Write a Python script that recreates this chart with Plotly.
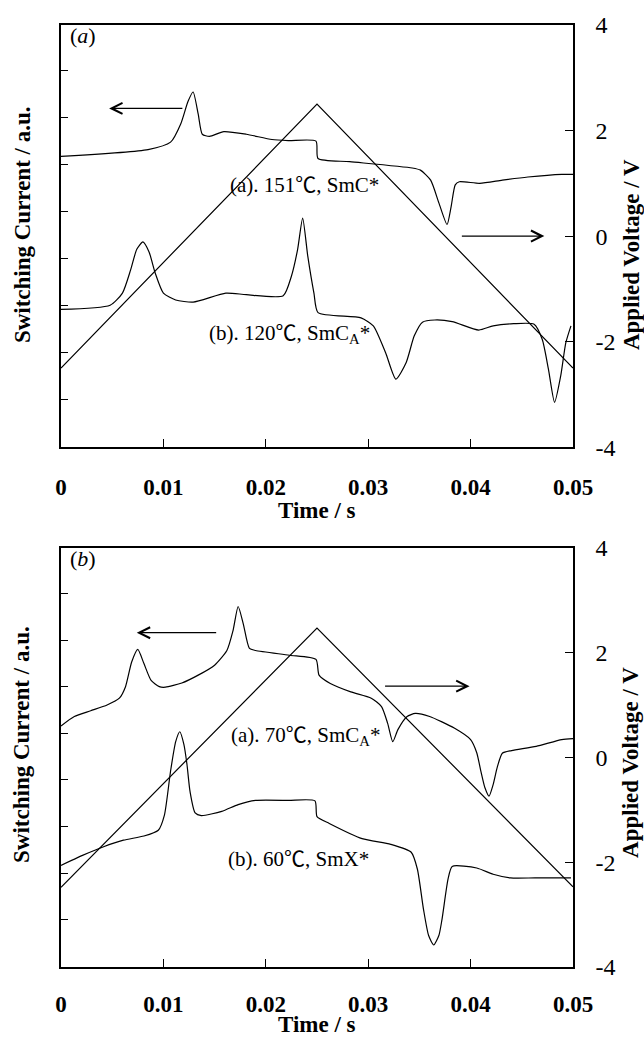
import plotly.graph_objects as go

# ---------------- data ----------------
time_ticks = [0, 0.01, 0.02, 0.03, 0.04, 0.05]
time_tick_labels = ["0", "0.01", "0.02", "0.03", "0.04", "0.05"]
volt_ticks = [-4, -2, 0, 2, 4]
volt_tick_labels = ["-4", "-2", "0", "2", "4"]
current_tick_positions = [-3.1, -2.21, -1.32, -0.43, 0.46, 1.35, 2.24, 3.13]

# applied triangular voltage (both panels)
volt_t = [0, 0.025, 0.05]
top_volt_v = [-2.5, 2.5, -2.5]
bot_volt_v = [-2.48, 2.47, -2.47]

# panel (a): 151 C SmC*
top_a_t = [0, 0.0085, 0.0107, 0.0117, 0.0124, 0.0129, 0.0134, 0.0138, 0.0145, 0.0159, 0.0181,
           0.0206, 0.0222, 0.0249, 0.0251, 0.0282, 0.0343, 0.0351, 0.0361, 0.0369, 0.0377, 0.0381,
           0.0385, 0.0389, 0.0409, 0.0431, 0.0456, 0.0489, 0.05]
top_a_i = [1.51, 1.64, 1.78, 2.13, 2.55, 2.73, 2.31, 1.93, 1.89, 1.98, 1.93,
           1.83, 1.81, 1.80, 1.47, 1.41, 1.29, 1.25, 1.06, 0.63, 0.22, 0.56,
           0.97, 1.03, 1.00, 1.06, 1.12, 1.17, 1.17]

# panel (a): 120 C SmCA*
top_b_t = [0, 0.0048, 0.006, 0.0068, 0.0074, 0.008, 0.0086, 0.0092, 0.01, 0.0112, 0.0129,
           0.0161, 0.0181, 0.0217, 0.0225, 0.0231, 0.0236, 0.0241, 0.0247, 0.0251, 0.0293,
           0.0305, 0.0317, 0.0327, 0.0337, 0.0345, 0.0353, 0.0365, 0.0382, 0.0408, 0.0422,
           0.0442, 0.0462, 0.047, 0.0476, 0.0482, 0.0488, 0.0493, 0.0498]
top_b_i = [-1.39, -1.31, -1.08, -0.64, -0.25, -0.11, -0.30, -0.70, -1.08, -1.21, -1.25,
           -1.08, -1.11, -1.13, -0.76, -0.26, 0.34, -0.38, -1.08, -1.45, -1.55,
           -1.70, -2.21, -2.71, -2.40, -1.89, -1.63, -1.59, -1.62, -1.78, -1.70,
           -1.66, -1.67, -1.96, -2.52, -3.15, -2.65, -2.02, -1.70]

# panel (b): 70 C SmCA*
bot_a_t = [0, 0.0013, 0.0029, 0.0045, 0.0057, 0.0063, 0.0069, 0.0075, 0.0081, 0.0088, 0.0096,
           0.0102, 0.0118, 0.0134, 0.015, 0.0162, 0.0168, 0.0173, 0.0178, 0.0184, 0.019,
           0.0223, 0.0249, 0.0252, 0.0263, 0.0283, 0.0303, 0.0313, 0.0319, 0.0324, 0.0329,
           0.0338, 0.0346, 0.036, 0.0384, 0.04, 0.0406, 0.041, 0.0414, 0.0418, 0.0422,
           0.0426, 0.0431, 0.044, 0.0464, 0.0489, 0.05]
bot_a_i = [0.60, 0.78, 0.89, 1.00, 1.13, 1.35, 1.82, 2.06, 1.79, 1.47, 1.35,
           1.34, 1.42, 1.57, 1.76, 2.04, 2.42, 2.88, 2.55, 2.08, 2.04,
           1.95, 1.87, 1.57, 1.41, 1.25, 1.13, 0.97, 0.65, 0.30, 0.53,
           0.78, 0.84, 0.78, 0.56, 0.34, 0.09, -0.26, -0.58, -0.74, -0.52,
           -0.19, 0.08, 0.13, 0.21, 0.34, 0.36]

# panel (b): 60 C SmX*
bot_b_t = [0, 0.0021, 0.0041, 0.0061, 0.0081, 0.0095, 0.0101, 0.0107, 0.0112, 0.0116, 0.012,
           0.0123, 0.0126, 0.0131, 0.0137, 0.0157, 0.0173, 0.019, 0.0222, 0.0248, 0.025,
           0.0262, 0.0294, 0.0322, 0.0342, 0.0348, 0.0354, 0.0359, 0.0364, 0.0369, 0.0372,
           0.0378, 0.0382, 0.0406, 0.0422, 0.0439, 0.0463, 0.0498]
bot_b_i = [-2.06, -1.87, -1.71, -1.58, -1.50, -1.39, -1.10, -0.26, 0.30, 0.49, 0.25,
           -0.13, -0.65, -1.06, -1.11, -1.03, -0.90, -0.82, -0.82, -0.83, -1.13,
           -1.26, -1.55, -1.66, -1.81, -2.13, -2.90, -3.40, -3.58, -3.40, -3.10,
           -2.32, -2.08, -2.11, -2.23, -2.30, -2.30, -2.30]

# ---------------- figure ----------------
SERIF = "Liberation Serif, Times New Roman, serif"

fig = go.Figure()
for t, v, xa, ya, shape in [
    (top_a_t, top_a_i, "x", "y", "spline"),
    (top_b_t, top_b_i, "x", "y", "spline"),
    (volt_t, top_volt_v, "x", "y2", "linear"),
    (bot_a_t, bot_a_i, "x2", "y3", "spline"),
    (bot_b_t, bot_b_i, "x2", "y3", "spline"),
    (volt_t, bot_volt_v, "x2", "y4", "linear"),
]:
    fig.add_trace(go.Scatter(x=t, y=v, xaxis=xa, yaxis=ya, mode="lines",
                             line=dict(color="black", width=1.2, shape=shape, smoothing=0.6),
                             showlegend=False, hoverinfo="skip"))

top_dom = [0.5518, 1.0]
bot_dom = [0.0, 0.445]

def xax(anchor, standoff):
    return dict(anchor=anchor, domain=[0, 1], range=[0, 0.05], showgrid=False, zeroline=False,
                showline=True, linecolor="black", linewidth=1.5, mirror=True,
                ticks="inside", ticklen=8, tickwidth=1.2, tickcolor="black",
                tickvals=time_ticks, ticktext=time_tick_labels,
                tickfont=dict(family=SERIF, size=23, color="black", weight="bold"),
                ticklabelstandoff=standoff)

def yleft(anchor, dom):
    return dict(anchor=anchor, domain=dom, range=[-4, 4], showgrid=False, zeroline=False,
                showline=True, linecolor="black", linewidth=1.5,
                ticks="inside", ticklen=7, tickwidth=1.2, tickcolor="black",
                tickvals=current_tick_positions, showticklabels=False)

def yright(anchor, over):
    return dict(anchor=anchor, overlaying=over, side="right", range=[-4, 4],
                showgrid=False, zeroline=False,
                showline=True, linecolor="black", linewidth=1.5,
                ticks="inside", ticklen=8, tickwidth=1.2, tickcolor="black",
                tickvals=volt_ticks, ticktext=volt_tick_labels,
                tickfont=dict(family=SERIF, size=24, color="black"),
                ticklabelstandoff=16)

fig.update_layout(
    width=644, height=1038,
    margin=dict(l=61, r=71, t=21, b=71),
    paper_bgcolor="white", plot_bgcolor="white",
    showlegend=False,
    xaxis=xax("y", 18), yaxis=yleft("x", top_dom), yaxis2=yright("x", "y"),
    xaxis2=xax("y3", 16), yaxis3=yleft("x2", bot_dom), yaxis4=yright("x2", "y3"),
)

CEL = '<span style="font-family:Noto Sans CJK JP">℃</span>'
TXT = dict(family=SERIF, size=21, color="black")
TITLE = dict(family=SERIF, size=23, color="black", weight="bold")
CENTER = dict(xanchor="center", yanchor="middle", showarrow=False)
ann = []
# axis titles
for yc in (0.7886, 0.2368):
    ann.append(dict(xref="paper", yref="paper", x=-0.0762, y=yc, textangle=-90,
                    text="Switching Current / a.u.", font=TITLE, **CENTER))
for yc in (0.7558, 0.2167):
    ann.append(dict(xref="paper", yref="paper", x=1.1133, y=yc, textangle=-90,
                    text="Applied Voltage / V", font=TITLE, **CENTER))
for yc in (0.4841, -0.0615):
    ann.append(dict(xref="paper", yref="paper", x=0.5, y=yc,
                    text="Time / s", font=TITLE, **CENTER))
# panel labels
ann.append(dict(xref="x domain", yref="y domain", x=0.043, y=0.974,
                text="(<i>a</i>)", font=dict(family=SERIF, size=22, color="black"), **CENTER))
ann.append(dict(xref="x2 domain", yref="y3 domain", x=0.043, y=0.974,
                text="(<i>b</i>)", font=dict(family=SERIF, size=22, color="black"), **CENTER))
# curve labels
ann.append(dict(xref="x", yref="y", x=0.0238, y=1.0, text="(a). 151" + CEL + ", SmC*",
                showarrow=False, font=TXT))
ann.append(dict(xref="x", yref="y", x=0.0223, y=-1.80, text="(b). 120" + CEL + ", SmC<sub>A</sub>*",
                showarrow=False, font=TXT))
ann.append(dict(xref="x2", yref="y3", x=0.0239, y=0.46, text="(a). 70" + CEL + ", SmC<sub>A</sub>*",
                showarrow=False, font=TXT))
ann.append(dict(xref="x2", yref="y3", x=0.0232, y=-1.90, text="(b). 60" + CEL + ", SmX*",
                showarrow=False, font=TXT))
# arrows
ARW = dict(text="", showarrow=True, arrowhead=5, arrowsize=1.8, arrowwidth=1.2, arrowcolor="black")
ann.append(dict(xref="x", yref="y", axref="x", ayref="y", x=0.0047, y=2.42, ax=0.0120, ay=2.42, **ARW))
ann.append(dict(xref="x", yref="y", axref="x", ayref="y", x=0.0472, y=0.0, ax=0.0390, ay=0.0, **ARW))
ann.append(dict(xref="x2", yref="y3", axref="x2", ayref="y3", x=0.0074, y=2.38, ax=0.0153, ay=2.38, **ARW))
ann.append(dict(xref="x2", yref="y3", axref="x2", ayref="y3", x=0.0399, y=1.36, ax=0.0315, ay=1.36, **ARW))
fig.update_layout(annotations=ann)

fig.write_html("out.html")
